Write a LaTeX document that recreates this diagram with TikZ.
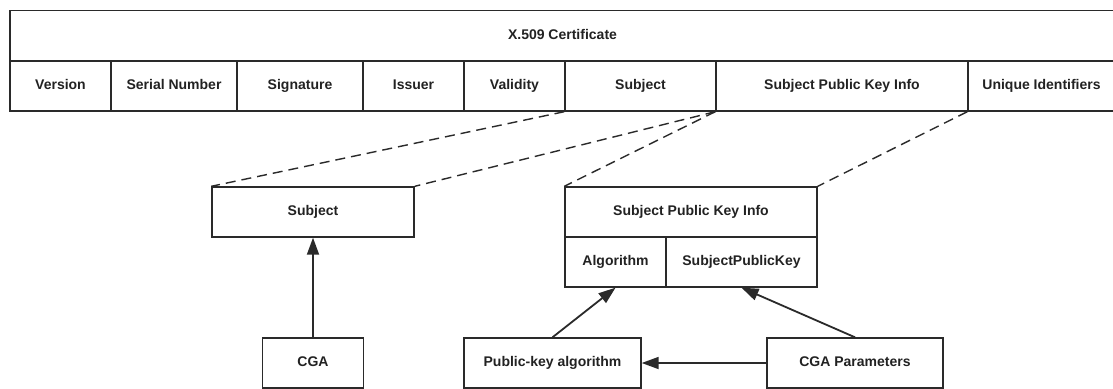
\documentclass[tikz,border=0pt]{standalone}
\usepackage{fontspec}
\setmainfont{Liberation Sans}
\usetikzlibrary{arrows.meta}
\definecolor{ln}{HTML}{2A2A2A}
\definecolor{tx}{HTML}{222222}
\tikzset{
  cell/.style={draw=ln, line width=1.4pt, inner sep=0pt, text=tx,
    text height=10pt, text depth=3pt,
    font=\fontsize{14}{16}\selectfont\bfseries},
  link/.style={draw=ln, line width=1.4pt, dash pattern=on 10pt off 6pt},
  arr/.style={draw=ln, line width=1.8pt, -{Triangle[length=17pt,width=12pt]}}
}
\begin{document}
\begin{tikzpicture}[x=1pt,y=-1pt]
\useasboundingbox (0,0) rectangle (1113,388);
\fill[white] (0,0) rectangle (1113,388);
% top bar
\node[cell, minimum width=1105pt, minimum height=50.5pt] (cert) at (562.5,35.5) {X.509 Certificate};
\node[cell, minimum width=101pt, minimum height=50pt] (ver) at (60.5,86) {Version};
\node[cell, minimum width=126pt, minimum height=50pt] (ser) at (174,86) {Serial Number};
\node[cell, minimum width=126pt, minimum height=50pt] (sig) at (300,86) {Signature};
\node[cell, minimum width=101pt, minimum height=50pt] (iss) at (413.5,86) {Issuer};
\node[cell, minimum width=101pt, minimum height=50pt] (val) at (514.5,86) {Validity};
\node[cell, minimum width=151pt, minimum height=50pt] (subj) at (640.5,86) {Subject};
\node[cell, minimum width=252pt, minimum height=50pt] (spki) at (842,86) {Subject Public Key Info};
\node[cell, minimum width=147pt, minimum height=50pt] (uid) at (1041.5,86) {Unique Identifiers};
% middle
\node[cell, minimum width=202pt, minimum height=50pt] (subjbox) at (313,212) {Subject};
\node[cell, minimum width=252pt, minimum height=50pt] (spkibox) at (691,212) {Subject Public Key Info};
\node[cell, minimum width=101pt, minimum height=50pt] (alg) at (615.5,262) {Algorithm};
\node[cell, minimum width=151pt, minimum height=50pt] (spk) at (741.5,262) {SubjectPublicKey};
% bottom
\node[cell, minimum width=101pt, minimum height=50pt] (cga) at (313,363) {CGA};
\node[cell, minimum width=177pt, minimum height=50pt] (pka) at (552.5,363) {Public-key algorithm};
\node[cell, minimum width=176pt, minimum height=50pt] (cgap) at (855,363) {CGA Parameters};
% dashed links
\draw[link] (subj.south west) -- (subjbox.north west);
\draw[link] (spki.south west) -- (subjbox.north east);
\draw[link] (spki.south west) -- (spkibox.north west);
\draw[link] (uid.south west) -- (spkibox.north east);
% arrows
\draw[arr] (cga.north) -- (subjbox.south);
\draw[arr] (pka.north) -- (alg.south);
\draw[arr] (cgap.north) -- (spk.south);
\draw[arr] (cgap.west) -- (pka.east);
\end{tikzpicture}
\end{document}
